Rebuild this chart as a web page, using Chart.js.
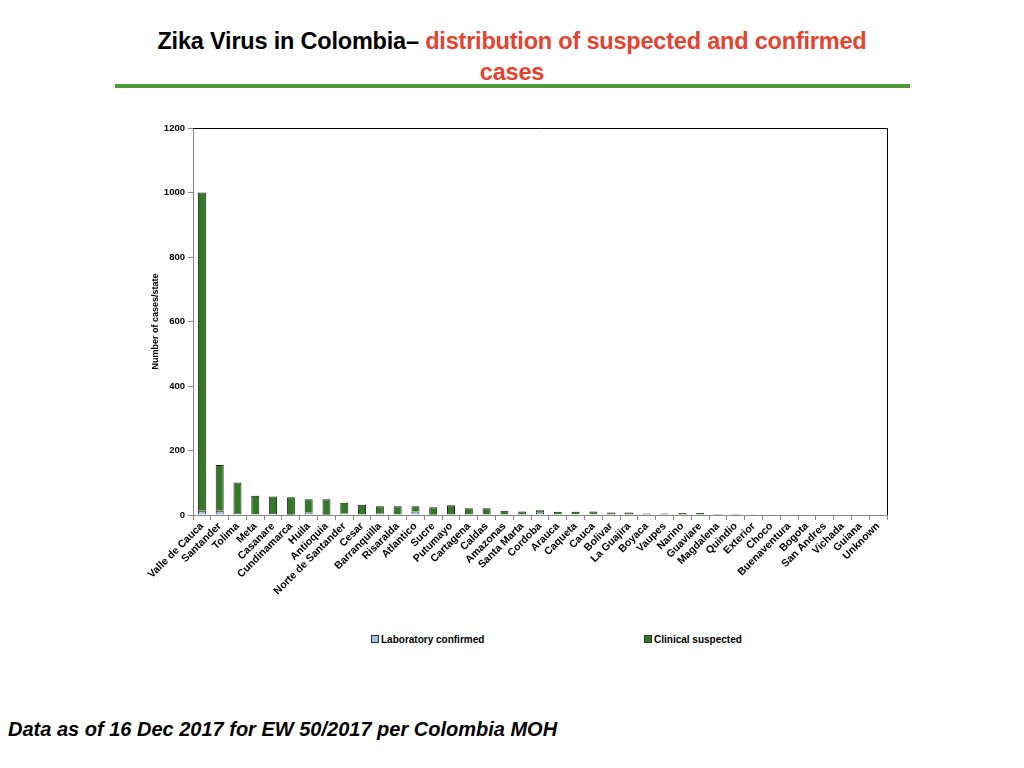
<!DOCTYPE html>
<html>
<head>
<meta charset="utf-8">
<script src="https://cdn.jsdelivr.net/npm/chart.js@4"></script>
<style>
  html, body { margin:0; padding:0; background:#fff; width:1024px; height:768px; overflow:hidden; }
  #title { position:absolute; left:0; top:26px; width:1024px; text-align:center;
    font-family:"Liberation Sans",Arial,sans-serif; font-weight:bold; font-size:23.5px; line-height:31px; color:#000; letter-spacing:-0.2px; }
  #title .red { color:#e5432f; }
  #rule { position:absolute; left:115px; top:84px; width:795px; height:4px; background:#4f9a3c; }
  #wrap { position:absolute; left:140px; top:100px; width:780px; height:520px; }
  .leg { position:absolute; top:634px; font-family:"Liberation Sans",Arial,sans-serif; font-weight:bold; font-size:10px; color:#000; }
  .leg span.box { display:inline-block; width:6px; height:6px; border:1px solid #333; margin-right:2px; vertical-align:0px; }
  #footer { position:absolute; left:8px; top:718px; font-family:"Liberation Sans",Arial,sans-serif; font-weight:bold; font-style:italic; font-size:20px; color:#000; }
</style>
</head>
<body>
<div id="title">Zika Virus in Colombia– <span class="red">distribution of suspected and confirmed</span><br><span class="red">cases</span></div>
<div id="rule"></div>
<div id="wrap"><canvas id="c"></canvas></div>
<div class="leg" style="left:371px;"><span class="box" style="background:#a8c2e2"></span>Laboratory confirmed</div>
<div class="leg" style="left:644px;"><span class="box" style="background:#2f7a22"></span>Clinical suspected</div>
<div id="footer">Data as of 16 Dec 2017 for EW 50/2017 per Colombia MOH</div>
<script>
const categories = ["Valle de Cauca","Santander","Tolima","Meta","Casanare","Cundinamarca","Huila","Antioquia","Norte de Santander","Cesar","Barranquilla","Risaralda","Atlantico","Sucre","Putumayo","Cartagena","Caldas","Amazonas","Santa Marta","Cordoba","Arauca","Caqueta","Cauca","Bolivar","La Guajira","Boyaca","Vaupes","Narino","Guaviare","Magdalena","Quindio","Exterior","Choco","Buenaventura","Bogota","San Andres","Vichada","Guiana","Unknown"];
const labConfirmed = [13,13,6,3,6,1,8,1,5,0,4,0,11,1,0,0,0,0,0,7,2,2,2,0,0,0,0,0,0,0,0,0,0,0,0,0,0,0,0];
const clinicalSuspected = [987,142,95,57,51,54,41,48,33,32,23,27,16,23,30,21,21,13,11,8,8,8,9,8,8,5,5,6,6,3,3,1,1,2,0,0,0,0,0];
const yTicks = [0,200,400,600,800,1000,1200];

const frame = {
  id:'frame',
  afterDatasetsDraw(chart){
    const {ctx, chartArea:a} = chart;
    ctx.save();
    ctx.strokeStyle = '#000';
    ctx.lineWidth = 1;
    ctx.beginPath();
    ctx.moveTo(a.left, a.top+0.5);
    ctx.lineTo(a.right+0.5, a.top+0.5);
    ctx.lineTo(a.right+0.5, a.bottom);
    ctx.stroke();
    ctx.restore();
  }
};

const font = {family:'"Liberation Sans", Arial, sans-serif', weight:'bold'};
new Chart(document.getElementById('c'), {
  type:'bar',
  data:{
    labels:categories,
    datasets:[
      {label:'Laboratory confirmed', data:labConfirmed, backgroundColor:'#a8c2e2', borderColor:'#222', borderWidth:1, barPercentage:0.9, categoryPercentage:0.5},
      {label:'Clinical suspected', data:clinicalSuspected, backgroundColor:'#2f7a22', borderColor:'#222', borderWidth:1, barPercentage:0.9, categoryPercentage:0.5}
    ]
  },
  options:{
    responsive:true, maintainAspectRatio:false, animation:false,
    layout:{padding:{top:28, right:33, bottom:0, left:0}},
    plugins:{legend:{display:false}, tooltip:{enabled:false}},
    scales:{
      x:{
        stacked:true,
        grid:{display:true, drawOnChartArea:false, drawTicks:true, tickLength:5, color:'#888'},
        border:{color:'#888'},
        ticks:{autoSkip:false, maxRotation:45, minRotation:45, color:'#000', font:{...font, size:10.5}, padding:0},
        afterFit(s){ s.height = 105; }
      },
      y:{
        stacked:true, min:0, max:1200,
        afterBuildTicks(s){ s.ticks = yTicks.map(v=>({value:v})); },
        grid:{display:true, drawOnChartArea:false, drawTicks:true, tickLength:5, color:'#888'},
        border:{color:'#888'},
        ticks:{color:'#000', font:{...font, size:9.5}, padding:3, callback:(v)=>String(v)},
        title:{display:true, text:'Number of cases/state', color:'#000', font:{...font, size:9}, padding:{top:10,bottom:4}},
        afterFit(s){ s.width = 53; }
      }
    }
  },
  plugins:[frame]
});
</script>
</body>
</html>
